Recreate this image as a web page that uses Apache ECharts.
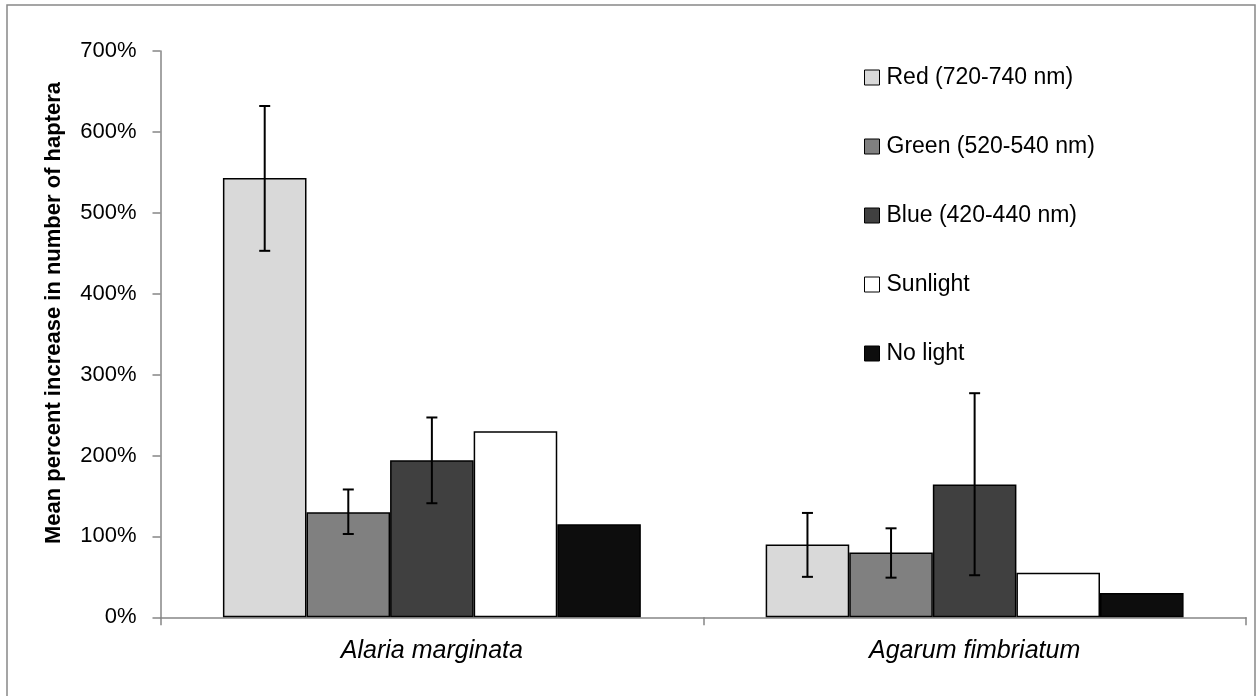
<!DOCTYPE html>
<html>
<head>
<meta charset="utf-8">
<script src="https://cdn.jsdelivr.net/npm/echarts@6/dist/echarts.min.js"></script>
<style>
html,body{margin:0;padding:0;background:#fff;}
#chart{width:1257px;height:696px;}
</style>
</head>
<body>
<div id="chart"></div>
<script>
// ---- data ----
const categories = ['Alaria marginata', 'Agarum fimbriatum'];
const seriesNames = ['Red (720-740 nm)', 'Green (520-540 nm)', 'Blue (420-440 nm)', 'Sunlight', 'No light'];
const redValues = [543, 90];
const greenValues = [130, 80];
const blueValues = [194, 164];
const sunlightValues = [230, 55];
const noLightValues = [115, 30];
// error bar bounds (lower, upper)
const redErrLow = [453, 50];
const redErrHigh = [632, 129];
const greenErrLow = [103, 49];
const greenErrHigh = [158, 110];
const blueErrLow = [141, 52];
const blueErrHigh = [247, 277];
const yTicks = [0, 100, 200, 300, 400, 500, 600, 700];

const colors = ['#d9d9d9', '#808080', '#404040', '#ffffff', '#0d0d0d'];
const allValues = [redValues, greenValues, blueValues, sunlightValues, noLightValues];
const errSets = [[redErrLow, redErrHigh, 0], [greenErrLow, greenErrHigh, 1], [blueErrLow, blueErrHigh, 2]];
const BAR_FRAC = 0.154;

const errData = [];
errSets.forEach(([lo, hi, si]) => {
  categories.forEach((c, ci) => {
    errData.push([ci, lo[ci], hi[ci], si]);
  });
});

const font = 'Liberation Sans';
const chart = echarts.init(document.getElementById('chart'), null, {renderer: 'canvas'});

const barSeries = seriesNames.map((name, i) => ({
  name: name,
  type: 'bar',
  data: allValues[i],
  barWidth: (BAR_FRAC * 100) + '%',
  barGap: '0%',
  itemStyle: {color: colors[i], borderColor: '#000', borderWidth: 1.5},
  emphasis: {disabled: true},
  animation: false
}));

const errorSeries = {
  type: 'custom',
  data: errData,
  z: 10,
  animation: false,
  silent: true,
  renderItem: function (params, api) {
    const ci = api.value(0), lo = api.value(1), hi = api.value(2), si = api.value(3);
    const catW = api.size([1, 0])[0];
    const bw = catW * BAR_FRAC;
    const cx = api.coord([ci, 0])[0] + (si - 2) * bw;
    const yLo = api.coord([ci, lo])[1];
    const yHi = api.coord([ci, hi])[1];
    const cap = 5.5;
    const st = {stroke: '#000', lineWidth: 2};
    return {
      type: 'group',
      children: [
        {type: 'line', shape: {x1: cx, y1: yLo, x2: cx, y2: yHi}, style: st},
        {type: 'line', shape: {x1: cx - cap, y1: yHi, x2: cx + cap, y2: yHi}, style: st},
        {type: 'line', shape: {x1: cx - cap, y1: yLo, x2: cx + cap, y2: yLo}, style: st}
      ]
    };
  }
};

chart.setOption({
  backgroundColor: '#fff',
  animation: false,
  textStyle: {fontFamily: font},
  grid: {left: 160.5, right: 11, top: 51, bottom: 78.7, containLabel: false},
  legend: {
    orient: 'vertical',
    left: 864,
    top: 66,
    padding: 0,
    itemWidth: 15,
    itemHeight: 15,
    itemGap: 46,
    icon: 'rect',
    selectedMode: false,
    data: seriesNames,
    itemStyle: {borderColor: '#000', borderWidth: 1},
    textStyle: {fontFamily: font, fontSize: 23, color: '#000', lineHeight: 21, padding: [0, 0, 0, 2]}
  },
  xAxis: {
    type: 'category',
    data: categories,
    axisLine: {lineStyle: {color: '#868686', width: 1.5}},
    axisTick: {show: true, length: 8, lineStyle: {color: '#868686', width: 1.5}},
    axisLabel: {fontFamily: font, fontSize: 25, fontStyle: 'italic', color: '#000', margin: 21}
  },
  yAxis: {
    type: 'value',
    min: 0,
    max: 700,
    interval: 100,
    splitLine: {show: false},
    axisLine: {show: true, lineStyle: {color: '#868686', width: 1.5}},
    axisTick: {show: true, length: 8, lineStyle: {color: '#868686', width: 1.5}},
    axisLabel: {fontFamily: font, fontSize: 22, color: '#000', margin: 24,
      formatter: function (v) { return yTicks.indexOf(v) >= 0 ? v + '%' : ''; }}
  },
  graphic: [
    {type: 'rect', shape: {x: 7, y: 5, width: 1248, height: 700}, style: {fill: 'none', stroke: '#888', lineWidth: 1.5}, silent: true, z: -1},
    {type: 'text', x: 54, y: 313, rotation: Math.PI / 2,
      style: {text: 'Mean percent increase in number of haptera', fontFamily: font, fontSize: 22, fontWeight: 'bold', fill: '#000', align: 'center', verticalAlign: 'middle'}}
  ],
  series: barSeries.concat([errorSeries])
});
</script>
</body>
</html>
